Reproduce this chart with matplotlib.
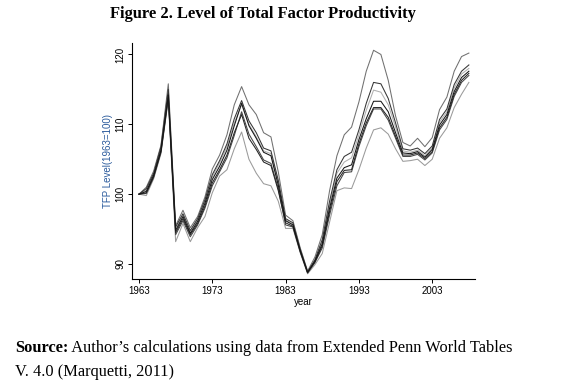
import matplotlib
matplotlib.use("Agg")
import matplotlib.pyplot as plt

years = list(range(1963, 2009))

series_a = [100, 101, 103.3, 107, 115.8, 95.5, 97.7, 95.2, 96.8, 99.6, 103.6, 105.6, 108.5, 112.8, 115.4,
            112.8, 111.4, 108.8, 108.2, 103.2, 97, 96.2, 92.3, 89, 91, 94.2, 100.5, 105.5, 108.5, 109.6,
            113.2, 117.6, 120.6, 120.0, 116.3, 111.2, 107.4, 106.9, 108.0, 106.8, 108.1, 112.1, 113.9,
            117.6, 119.7, 120.2]
series_b = [100, 100.8, 103, 106.8, 115, 95.3, 97.2, 94.8, 96.5, 99.2, 102.8, 104.8, 107.2, 110.8, 113.4,
            110.5, 108.8, 106.6, 106.2, 102, 96.5, 95.9, 92.1, 88.9, 90.6, 93.5, 99, 103.5, 105.4, 106,
            109.2, 113, 116.0, 115.8, 113.7, 110.2, 106.5, 106.3, 106.6, 105.8, 106.9, 110.7, 112.2,
            115.7, 117.6, 118.5]
series_c = [100, 100.6, 102.9, 106.5, 114.6, 95, 97, 94.6, 96.3, 99, 102.5, 104.5, 106.8, 110.2, 112.8,
            110, 108.2, 106.2, 105.8, 101.6, 96.3, 95.7, 92, 88.9, 90.5, 93.2, 98.5, 103, 104.6, 105.2,
            108.5, 112, 114.9, 114.6, 112.8, 109.6, 106.2, 106, 106.3, 105.5, 106.6, 110.3, 111.8,
            115.2, 117.2, 118.0]
series_d = [100, 100.4, 102.7, 106.3, 114.2, 94.8, 96.8, 94.4, 96.1, 98.7, 102.1, 104, 106.3, 109.8, 113.0,
            109.8, 108.0, 106.0, 105.5, 101.3, 96.2, 95.6, 91.9, 88.8, 90.4, 92.9, 98, 102.3, 103.8, 104.2,
            107.8, 110.8, 113.3, 113.3, 111.8, 108.8, 105.9, 105.8, 106.1, 105.3, 106.4, 109.9, 111.4,
            114.7, 116.7, 117.6]
series_e = [100, 100.2, 102.5, 106.1, 113.9, 94.5, 96.5, 94.2, 95.8, 98.3, 101.6, 103.5, 105.6, 108.8, 111.4,
            108.0, 106.4, 104.6, 104.1, 100.5, 95.9, 95.4, 91.8, 88.8, 90.3, 92.6, 97.5, 101.8, 103.4, 103.5,
            107.2, 110.2, 112.4, 112.4, 111.0, 108.3, 105.6, 105.6, 105.9, 105.1, 106.1, 109.5, 111.0,
            114.3, 116.3, 117.3]
series_f = [100, 100.1, 102.4, 106, 113.7, 94.2, 96.2, 93.9, 95.6, 98, 101.2, 103.2, 105.2, 108.4, 111.8,
            108.6, 106.8, 104.9, 104.4, 100.8, 95.6, 95.3, 91.7, 88.7, 90.2, 92.3, 97.0, 101.2, 103.1, 103.2,
            106.8, 109.8, 112.2, 112.2, 110.6, 108.0, 105.4, 105.4, 105.7, 104.9, 105.9, 109.2, 110.7,
            114.0, 116.0, 117.0]
series_g = [100, 99.8, 102.2, 105.8, 113.5, 93.2, 95.8, 93.2, 95.2, 96.8, 100.2, 102.6, 103.5, 106.5, 108.9,
            105.0, 103.0, 101.5, 101.2, 99.0, 95.1, 95.1, 91.6, 88.6, 89.9, 91.5, 96.0, 100.5, 100.9, 100.8,
            103.5, 106.6, 109.2, 109.5, 108.6, 106.5, 104.7, 104.8, 105.0, 104.1, 105.0, 108.0, 109.5,
            112.4, 114.3, 116.0]

xticks = [1963, 1973, 1983, 1993, 2003]
yticks = [90, 100, 110, 120]

title = "Figure 2. Level of Total Factor Productivity"
source_bold = "Source:"
source_rest = " Author\u2019s calculations using data from Extended Penn World Tables"
source_line2 = "V. 4.0 (Marquetti, 2011)"

fig = plt.figure(figsize=(5.76, 3.90), dpi=100)
ax = fig.add_axes([0.2297, 0.2854, 0.595, 0.6036])

styles = [
    (series_a, "#707070"),
    (series_g, "#9a9a9a"),
    (series_c, "#b0b0b0"),
    (series_f, "#454545"),
    (series_b, "#353535"),
    (series_e, "#252525"),
    (series_d, "#151515"),
]
for s, c in styles:
    ax.plot(years, s, color=c, lw=0.75)

ax.set_xlim(1962.09, 2008.84)
ax.set_ylim(87.9, 121.6)
ax.set_xticks(xticks)
ax.set_yticks(yticks)
ax.set_xticklabels([str(t) for t in xticks], fontsize=7, family="Liberation Sans")
ax.set_yticklabels([str(t) for t in yticks], fontsize=7, family="Liberation Sans",
                   rotation=90, va="center")
ax.tick_params(length=3, width=0.7, pad=2)
for s in ["top", "right"]:
    ax.spines[s].set_visible(False)
for s in ["left", "bottom"]:
    ax.spines[s].set_linewidth(0.8)

ax.set_xlabel("year", fontsize=7, family="Liberation Sans", labelpad=1)
ax.set_ylabel("TFP Level(1963=100)", fontsize=7, family="Liberation Sans",
              color="#2a5a9c", labelpad=2)

fig.text(262.5 / 576, 1 - 14 / 390, title, ha="center", va="center", fontsize=11.9,
         fontweight="bold", family="Liberation Serif")

t1 = fig.text(15 / 576, 1 - 348 / 390, source_bold, ha="left", va="center", fontsize=11.8,
              fontweight="bold", family="Liberation Serif")
fig.canvas.draw()
bb = t1.get_window_extent()
fig.text(bb.x1 / 576, 1 - 348 / 390, source_rest, ha="left", va="center", fontsize=11.8,
         family="Liberation Serif")
fig.text(15 / 576, 1 - 372 / 390, source_line2, ha="left", va="center", fontsize=11.8,
         family="Liberation Serif")

fig.savefig("out.png", dpi=100)
